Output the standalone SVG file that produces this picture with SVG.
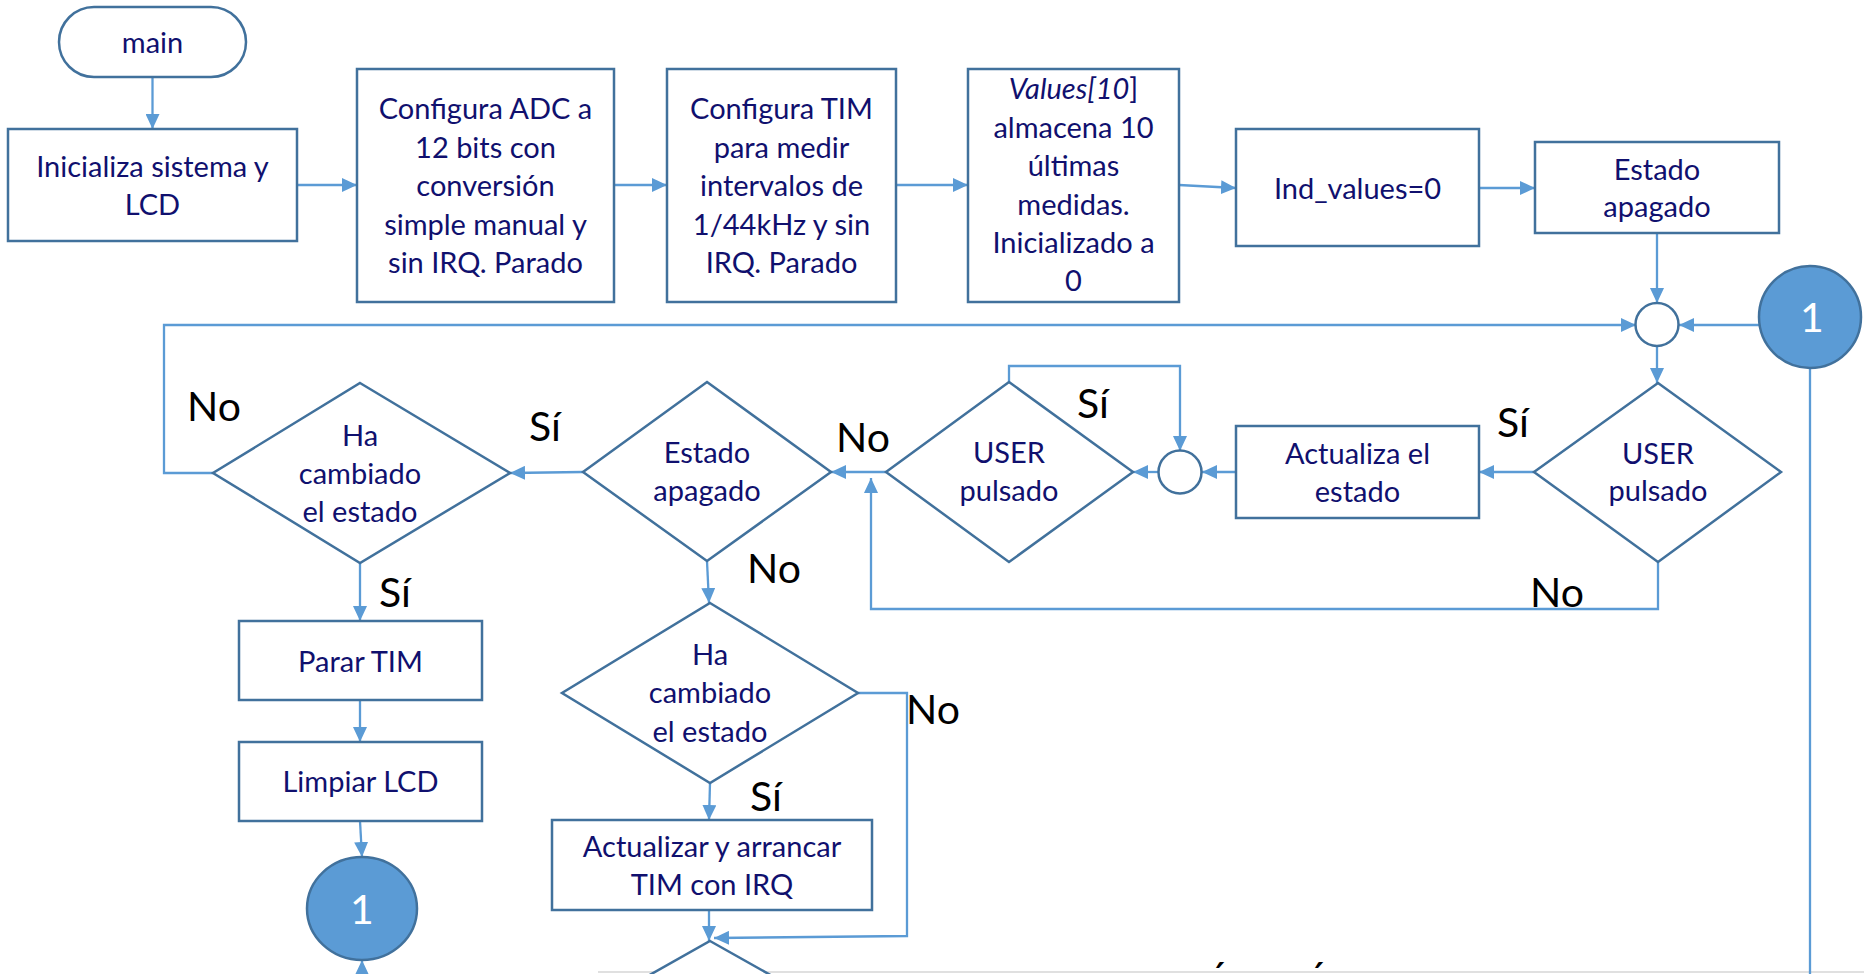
<svg xmlns="http://www.w3.org/2000/svg" width="1864" height="974" viewBox="0 0 1864 974">
<style>
.box{fill:#fff;stroke:#41719C;stroke-width:2.5}
.dot{fill:#5B9BD5;stroke:#41719C;stroke-width:2.5}
.t{font-family:Lato,"Liberation Sans",sans-serif;font-size:29px;fill:#10106E;text-anchor:middle}
.lb{font-family:Lato,"Liberation Sans",sans-serif;font-size:41px;fill:#000}
.n{font-family:Lato,"Liberation Sans",sans-serif;font-size:41px;fill:#fff;text-anchor:middle}
.c{fill:none;stroke:#5B9BD5;stroke-width:2.3}
</style>
<defs>
<marker id="ah" markerUnits="userSpaceOnUse" markerWidth="15" markerHeight="14" refX="15" refY="7" orient="auto">
<path d="M0,0 L15,7 L0,14 z" fill="#5B9BD5"/>
</marker>
</defs>
<rect width="1864" height="974" fill="#fff"/>
<line x1="598" y1="972" x2="1864" y2="972" stroke="#d6d6d6" stroke-width="1.5"/>

<g id="connectors">
<path class="c" marker-end="url(#ah)" d="M152.5,77 V129"/>
<path class="c" marker-end="url(#ah)" d="M297,185 H357"/>
<path class="c" marker-end="url(#ah)" d="M614,185 H667"/>
<path class="c" marker-end="url(#ah)" d="M896,185 H968"/>
<path class="c" marker-end="url(#ah)" d="M1179,185 L1236,188"/>
<path class="c" marker-end="url(#ah)" d="M1479,188 H1535"/>
<path class="c" marker-end="url(#ah)" d="M1657,233 V303"/>
<path class="c" marker-end="url(#ah)" d="M1759,325 H1679"/>
<path class="c" marker-end="url(#ah)" d="M1657,346 V383"/>
<path class="c" marker-end="url(#ah)" d="M1534,472 H1479"/>
<path class="c" marker-end="url(#ah)" d="M1236,472 H1202"/>
<path class="c" marker-end="url(#ah)" d="M1158,472 H1133"/>
<path class="c" marker-end="url(#ah)" d="M1009,382 V366 H1180 V451"/>
<path class="c" marker-end="url(#ah)" d="M1658,562 V609 H871 V478"/>
<path class="c" marker-end="url(#ah)" d="M886,472 H831"/>
<path class="c" marker-end="url(#ah)" d="M583,472 L510,473"/>
<path class="c" marker-end="url(#ah)" d="M213,473 H164 V325 H1636"/>
<path class="c" marker-end="url(#ah)" d="M360,563 V621"/>
<path class="c" marker-end="url(#ah)" d="M360,700 V742"/>
<path class="c" marker-end="url(#ah)" d="M360,821 L362,857"/>
<path class="c" marker-end="url(#ah)" d="M362,980 V960"/>
<path class="c" marker-end="url(#ah)" d="M707,561 L709,603"/>
<path class="c" marker-end="url(#ah)" d="M710,783 L709,820"/>
<path class="c" marker-end="url(#ah)" d="M709,910 V941"/>
<path class="c" marker-end="url(#ah)" d="M858,693 H907 V936 L714,938"/>
<path class="c" d="M1810,368 V974"/>
</g>

<g id="main"><rect class="box" x="59" y="7" width="187" height="70" rx="35"/><text class="t" x="152.5" y="53">main</text></g>
<g id="init"><rect class="box" x="8" y="129" width="289" height="112"/><text class="t" x="152.5" y="177">Inicializa sistema y</text><text class="t" x="152.5" y="215">LCD</text></g>
<g id="adc"><rect class="box" x="357" y="69" width="257" height="233"/>
<text class="t" x="485.5" y="119">Configura ADC a</text><text class="t" x="485.5" y="157.5">12 bits con</text><text class="t" x="485.5" y="196">conversión</text><text class="t" x="485.5" y="234.5">simple manual y</text><text class="t" x="485.5" y="273">sin IRQ. Parado</text></g>
<g id="tim"><rect class="box" x="667" y="69" width="229" height="233"/>
<text class="t" x="781.5" y="119">Configura TIM</text><text class="t" x="781.5" y="157.5">para medir</text><text class="t" x="781.5" y="196">intervalos de</text><text class="t" x="781.5" y="234.5">1/44kHz y sin</text><text class="t" x="781.5" y="273">IRQ. Parado</text></g>
<g id="values"><rect class="box" x="968" y="69" width="211" height="233"/>
<text class="t" x="1073.5" y="99"><tspan font-style="italic">Values[10</tspan>]</text><text class="t" x="1073.5" y="137.5">almacena 10</text><text class="t" x="1073.5" y="176">últimas</text><text class="t" x="1073.5" y="214.5">medidas.</text><text class="t" x="1073.5" y="253">Inicializado a</text><text class="t" x="1073.5" y="291">0</text></g>
<g id="ind"><rect class="box" x="1236" y="129" width="243" height="117"/><text class="t" x="1357.5" y="199">Ind_values=0</text></g>
<g id="estado"><rect class="box" x="1535" y="142" width="244" height="91"/><text class="t" x="1657" y="180">Estado</text><text class="t" x="1657" y="217">apagado</text></g>
<g id="merge1"><circle cx="1657" cy="324.5" r="21.5" fill="#fff" stroke="#41719C" stroke-width="2.5"/></g>
<g id="conn1a"><ellipse class="dot" cx="1810" cy="317" rx="51" ry="51"/><text class="n" x="1812" y="332">1</text></g>
<g id="user1"><polygon class="box" points="1658,383 1781,472 1658,562 1534,472"/><text class="t" x="1658" y="464">USER</text><text class="t" x="1658" y="501">pulsado</text></g>
<g id="actualiza"><rect class="box" x="1236" y="426" width="243" height="92"/><text class="t" x="1357.5" y="464">Actualiza el</text><text class="t" x="1357.5" y="502">estado</text></g>
<g id="merge2"><circle cx="1180" cy="472" r="21.5" fill="#fff" stroke="#41719C" stroke-width="2.5"/></g>
<g id="user2"><polygon class="box" points="1009,382 1133,472 1009,562 886,472"/><text class="t" x="1009" y="463">USER</text><text class="t" x="1009" y="501">pulsado</text></g>
<g id="estadoq"><polygon class="box" points="707,382 831,472 707,561 583,472"/><text class="t" x="707" y="463">Estado</text><text class="t" x="707" y="501">apagado</text></g>
<g id="ha1"><polygon class="box" points="360,383 510,473 360,563 213,473"/><text class="t" x="360" y="446">Ha</text><text class="t" x="360" y="484">cambiado</text><text class="t" x="360" y="522">el estado</text></g>
<g id="parar"><rect class="box" x="239" y="621" width="243" height="79"/><text class="t" x="360.5" y="672">Parar TIM</text></g>
<g id="limpiar"><rect class="box" x="239" y="742" width="243" height="79"/><text class="t" x="360.5" y="792">Limpiar LCD</text></g>
<g id="conn1b"><ellipse class="dot" cx="362" cy="908.5" rx="55" ry="51.5"/><text class="n" x="362" y="924">1</text></g>
<g id="ha2"><polygon class="box" points="710,603 858,693 710,783 562,693"/><text class="t" x="710" y="665">Ha</text><text class="t" x="710" y="703">cambiado</text><text class="t" x="710" y="742">el estado</text></g>
<g id="actualizar"><rect class="box" x="552" y="820" width="320" height="90"/><text class="t" x="712" y="857">Actualizar y arrancar</text><text class="t" x="712" y="895">TIM con IRQ</text></g>
<g id="bottomq"><polygon class="box" points="710,941 861,1026 710,1111 559,1026"/></g>

<g id="labels">
<text class="lb" x="187" y="421">No</text>
<text class="lb" x="529" y="441">Sí</text>
<text class="lb" x="836" y="452">No</text>
<text class="lb" x="1077" y="418">Sí</text>
<text class="lb" x="1497" y="437">Sí</text>
<text class="lb" x="1530" y="607">No</text>
<text class="lb" x="379" y="607">Sí</text>
<text class="lb" x="747" y="583">No</text>
<text class="lb" x="906" y="724">No</text>
<text class="lb" x="750" y="811">Sí</text>
<text class="lb" x="1210" y="992">´</text>
<text class="lb" x="1309" y="992">´</text>
</g>
</svg>
